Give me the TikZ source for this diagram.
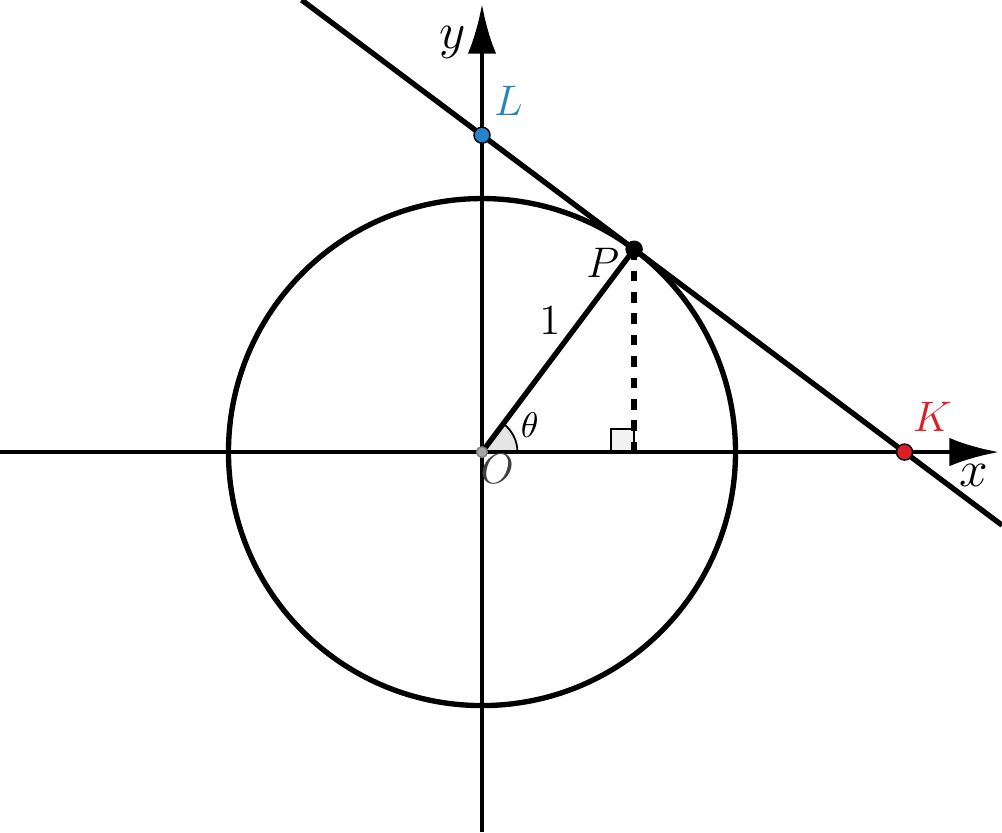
\documentclass[tikz,border=0pt]{standalone}
\usetikzlibrary{arrows.meta}
\definecolor{lblue}{RGB}{40,130,200}
\definecolor{kred}{RGB}{220,30,40}
\tikzset{
  thick line/.style={line width=1.5pt},
  axis/.style={line width=1.3pt,-{Latex[length=14pt,width=8pt]}},
  dot/.style={circle,draw=black,line width=0.4pt,inner sep=0pt,minimum size=4.5pt},
  lbl/.style={font=\large}
}
\begin{document}
\begin{tikzpicture}
    \useasboundingbox (-4.753,-3.748) rectangle (5.128,4.458);
    \def\r{2.5} % radius of the circle
    % points
    \coordinate (O) at (0,0);
    \coordinate (P) at (1.5,2);
    \coordinate (F) at (1.5,0);
    \coordinate (K) at (4.1667,0);
    \coordinate (L) at (0,3.125);
    \coordinate (xs) at (-4.753,0);
    \coordinate (xe) at (5.1,0);
    \coordinate (ys) at (0,-3.748);
    \coordinate (ye) at (0,4.42);
    \coordinate (ts) at (-1.778,4.458);
    \coordinate (te) at (5.128,-0.721);

    % angle and right angle
    \fill[gray!20] (O) -- (0.35,0) arc (0:53.13:0.35) -- cycle;
    \draw[line width=0.5pt] (0.35,0) arc (0:53.13:0.35);
    \draw[line width=0.5pt,fill=gray!10] (F) rectangle (1.27,0.23);

    % axes
    \draw[axis] (xs) -- (xe);
    \draw[axis] (ys) -- (ye);
    \node[font=\Large] at (4.85,-0.23) {$x$};
    \node[font=\Large] at (-0.29,4.04) {$y$};

    \draw[thick line] (O) circle (\r);
    \draw[thick line] (ts) -- (te);
    \draw[thick line] (O) -- (P);
    \draw[thick line,dashed] (P) -- (F);

    % labelled points
    \node[dot,fill=gray!70,draw=gray,minimum size=3pt] (o) at (O) {};
    \node[dot,fill=black] (p) at (P) {};
    \node[dot,fill=lblue] (l) at (L) {};
    \node[dot,fill=kred] (k) at (K) {};
    \node[lbl,text=black!75] at (0.15,-0.17) {$O$};
    \node[lbl] at (1.19,1.87) {$P$};
    \node[lbl] at (0.67,1.30) {$1$};
    \node[lbl,text=lblue] at (0.26,3.46) {$L$};
    \node[lbl,text=kred] at (4.44,0.35) {$K$};
    \node[font=\normalsize] at (0.47,0.27) {$\theta$};
\end{tikzpicture}
\end{document}
